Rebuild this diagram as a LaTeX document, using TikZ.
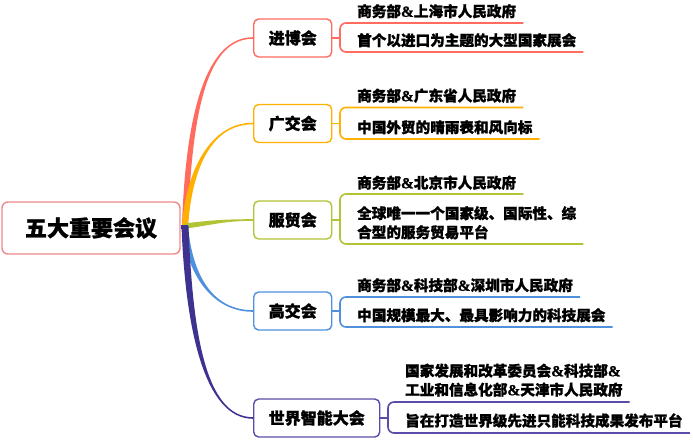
\documentclass[tikz,border=0pt]{standalone}
\usepackage{fontspec}
\newfontfamily\cjk{Noto Sans CJK SC}[BoldFeatures={FakeBold=1.2}]
\newfontfamily\amfont{Liberation Serif}[BoldFeatures={FakeBold=1}]
\usetikzlibrary{calc}
\definecolor{cA}{HTML}{FF6B5E}
\definecolor{cB}{HTML}{FFB000}
\definecolor{cC}{HTML}{B2C435}
\definecolor{cD}{HTML}{4F91DC}
\definecolor{cE}{HTML}{3E3290}
\definecolor{cEb}{HTML}{5A4CA8}
\definecolor{rootc}{HTML}{F08A8A}
\newcommand\amp{{\amfont\bfseries\fontsize{15.5pt}{19pt}\selectfont\&}}
\newcommand\branch[7]{%
  \fill[#1] ($(j)+#5$) .. controls +#3 and +#4 .. ($(#2.west)+#6$) -- ($(#2.west)-#6$)
     .. controls +#4 and +#3 .. ($(j)-#5$) -- cycle;}
\tikzset{
  box/.style={draw=#1, line width=1.4pt, rounded corners=5pt, fill=white,
    minimum height=38pt, inner xsep=15pt, anchor=west, text=black,
    font={\cjk\bfseries\fontsize{16pt}{19pt}\selectfont}},
  item/.style={anchor=south west, inner xsep=7pt, inner ysep=0pt, align=left, text=black,
    font={\cjk\bfseries\fontsize{14.6pt}{19pt}\selectfont}},
  brk/.style={draw=#1, line width=1.6pt, rounded corners=6pt},
}
\begin{document}
\begin{tikzpicture}[x=1pt,y=-1pt]
\useasboundingbox[fill=white] (0,0) rectangle (693,440);
% root
\node[draw=rootc, line width=1.4pt, rounded corners=6pt, fill=white,
  minimum width=178pt, minimum height=52pt, inner sep=0pt,
  font={\cjk\bfseries\fontsize{22pt}{26pt}\selectfont}] (root) at (91,228) {五大重要会议};
\coordinate (j) at (185,226);
% boxes
\node[box=cA] (b1) at (253,38) {进博会};
\node[box=cB] (b2) at (253,123.5) {广交会};
\node[box=cC] (b3) at (253,220) {服贸会};
\node[box=cD] (b4) at (253,311) {高交会};
\node[box=cEb] (b5) at (253,418) {世界智能大会};
% branches
\branch{cA}{b1}{(4,-125)}{(-43,0)}{(-3,0)}{(0,-0.8)}{}
\branch{cB}{b2}{(4,-55)}{(-43,0)}{(-3,0)}{(0,-0.8)}{}
\branch{cC}{b3}{(25,-3)}{(-30,0)}{(0,-2.6)}{(0,-0.8)}{}
\branch{cD}{b4}{(4,45)}{(-43,0)}{(-3,0)}{(0,0.8)}{}
\fill[cE] ($(root.east)+(0,-3)$) rectangle ($(j)+(3,2.5)$);
\branch{cE}{b5}{(4,105)}{(-48,0)}{(-3.5,0)}{(0,0.8)}{}
% branch 1
\coordinate (u1a) at (340,23); \coordinate (u1b) at (340,52);
\node[item] (t1a) at ($(u1a)+(10,-4.5)$) {商务部\amp 上海市人民政府};
\node[item] (t1b) at ($(u1b)+(10,-4.5)$) {首个以进口为主题的大型国家展会};
\draw[brk=cA] (u1a -| t1a.east) -- (u1a) -- (u1b) -- (u1b -| t1b.east);
\draw[brk=cA] (b1.east) -- (b1.east -| u1a);
% branch 2
\coordinate (u2a) at (340,107.5); \coordinate (u2b) at (340,139);
\node[item] (t2a) at ($(u2a)+(10,-4.5)$) {商务部\amp 广东省人民政府};
\node[item] (t2b) at ($(u2b)+(10,-4.5)$) {中国外贸的晴雨表和风向标};
\draw[brk=cB] (u2a -| t2a.east) -- (u2a) -- (u2b) -- (u2b -| t2b.east);
\draw[brk=cB] (b2.east) -- (b2.east -| u2a);
% branch 3
\coordinate (u3a) at (340,194); \coordinate (u3b) at (340,244);
\node[item] (t3a) at ($(u3a)+(10,-4)$) {商务部\amp 北京市人民政府};
\node[item] (t3b) at ($(u3b)+(10,-4.5)$) {全球唯一一个国家级、国际性、综\\合型的服务贸易平台};
\draw[brk=cC] (u3a -| t3a.east) -- (u3a) -- (u3b) -- (u3b -| t3b.east);
\draw[brk=cC] (b3.east) -- (b3.east -| u3a);
% branch 4
\coordinate (u4a) at (340,297); \coordinate (u4b) at (340,327);
\node[item] (t4a) at ($(u4a)+(10,-4.5)$) {商务部\amp 科技部\amp 深圳市人民政府};
\node[item] (t4b) at ($(u4b)+(10,-4.5)$) {中国规模最大、最具影响力的科技展会};
\draw[brk=cD] (u4a -| t4a.east) -- (u4a) -- (u4b) -- (u4b -| t4b.east);
\draw[brk=cD] (b4.east) -- (b4.east -| u4a);
% branch 5
\coordinate (u5a) at (388,402); \coordinate (u5b) at (388,433);
\node[item] (t5a) at ($(u5a)+(10,-5)$) {国家发展和改革委员会\amp 科技部\amp\\工业和信息化部\amp 天津市人民政府};
\node[item] (t5b) at ($(u5b)+(10,-5)$) {旨在打造世界级先进只能科技成果发布平台};
\draw[brk=cEb] (u5a -| t5a.east) -- (u5a) -- (u5b) -- (u5b -| t5b.east);
\draw[brk=cEb] (b5.east) -- (b5.east -| u5a);
\end{tikzpicture}
\end{document}
